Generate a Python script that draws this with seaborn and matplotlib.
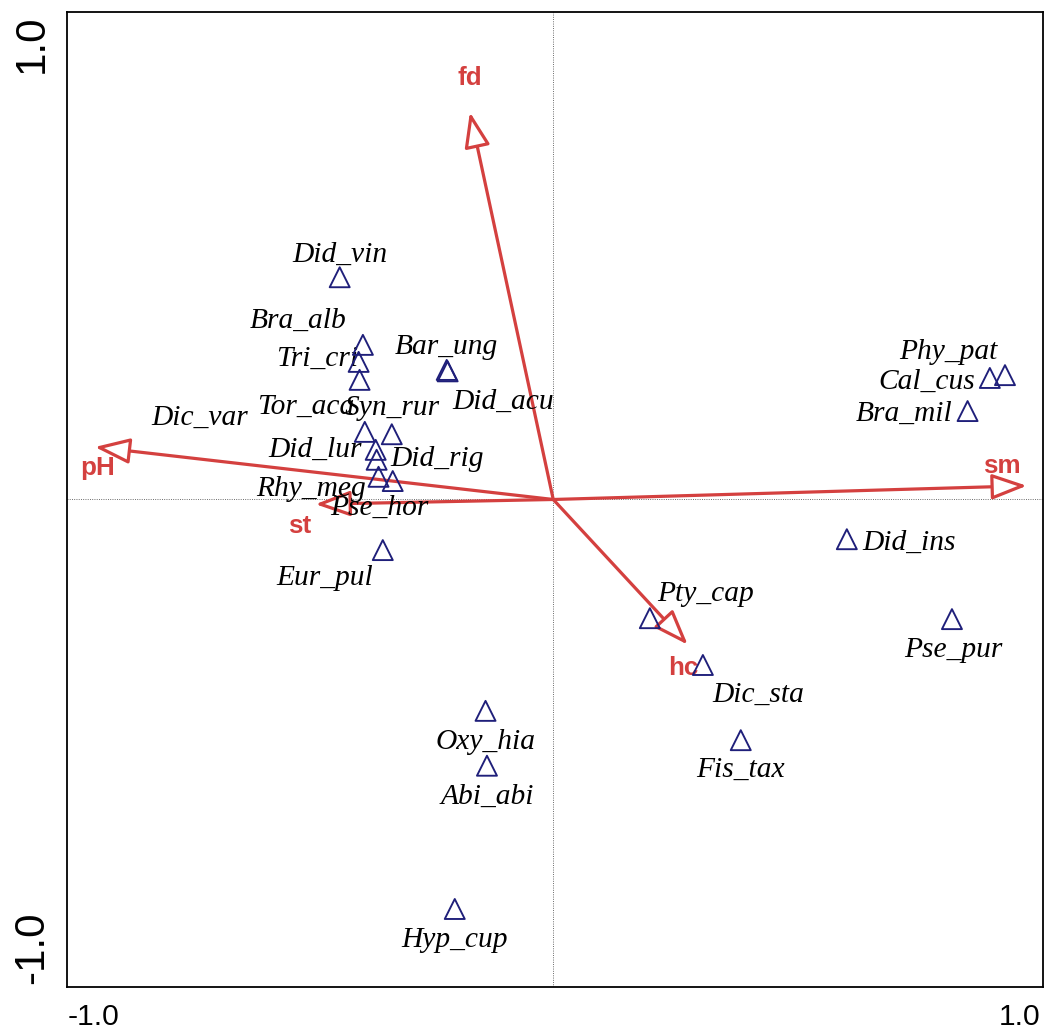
"""
CCA-style biplot: moss species scores and environmental arrows
"""

import matplotlib
matplotlib.use("Agg")
import matplotlib.pyplot as plt
import matplotlib.transforms as mtransforms
import seaborn as sns
import pandas as pd

# species scores (axis 1, axis 2)
species = ["Did_vin", "Bra_alb", "Tri_cri", "Tor_aca", "Bar_ung", "Did_acu",
           "Dic_var", "Syn_rur", "Did_lur", "Did_rig", "Rhy_meg", "Pse_hor",
           "Eur_pul", "Phy_pat", "Cal_cus", "Bra_mil", "Did_ins", "Pse_pur",
           "Pty_cap", "Dic_sta", "Fis_tax", "Oxy_hia", "Abi_abi", "Hyp_cup"]
sp_x = [-0.451, -0.402, -0.411, -0.409, -0.225, -0.223,
        -0.398, -0.341, -0.375, -0.339, -0.369, -0.373,
        -0.360, 0.954, 0.922, 0.875, 0.620, 0.842,
        0.204, 0.316, 0.396, -0.143, -0.140, -0.208]
sp_y = [0.470, 0.327, 0.291, 0.253, 0.274, 0.271,
        0.143, 0.138, 0.105, 0.039, 0.048, 0.084,
        -0.107, 0.263, 0.257, 0.187, -0.084, -0.253,
        -0.251, -0.350, -0.509, -0.447, -0.563, -0.866]

# environmental variables (arrow tips)
env_vars = ["fd", "pH", "sm", "st", "hc"]
env_x = [-0.176, -0.968, 1.000, -0.502, 0.284]
env_y = [0.819, 0.111, 0.029, -0.010, -0.307]

# label offsets in points (dx, dy), layout only
sp_offsets = {
    "Did_vin": (0, 22), "Bra_alb": (-65, 24), "Tri_cri": (-42, 3),
    "Tor_aca": (-54, -27), "Bar_ung": (0, 23), "Did_acu": (55, -30),
    "Dic_var": (-165, 14), "Syn_rur": (0, 26), "Did_lur": (-61, 0),
    "Did_rig": (44, 22), "Rhy_meg": (-67, -12), "Pse_hor": (3, -48),
    "Eur_pul": (-58, -28), "Phy_pat": (-57, 23), "Cal_cus": (-63, -4),
    "Bra_mil": (-63, -3), "Did_ins": (62, -4), "Pse_pur": (1, -31),
    "Pty_cap": (56, 24), "Dic_sta": (55, -30), "Fis_tax": (0, -30),
    "Oxy_hia": (0, -31), "Abi_abi": (0, -31), "Hyp_cup": (0, -31),
}
env_offsets = {"fd": (0, 34), "pH": (3, -21), "sm": (-25, 20),
               "st": (-16, -22), "hc": (-4, -23)}

RED = "#d4403f"
NAVY = "#1f1f7a"

sns.set_style("white")
plt.rcParams["font.family"] = ["Liberation Sans", "DejaVu Sans"]

df = pd.DataFrame({"species": species, "x": sp_x, "y": sp_y})

fig = plt.figure(figsize=(1046 / 72, 1032 / 72), dpi=72)
ax = fig.add_axes([0.064, 0.0436, 0.933, 0.9448])

# zero lines
ax.axhline(0, color="#555555", lw=0.9, ls=(0, (1, 1.5)), zorder=1)
ax.axvline(0, color="#555555", lw=0.9, ls=(0, (1, 1.5)), zorder=1)

# environmental arrows
for name, ex, ey in zip(env_vars, env_x, env_y):
    ax.annotate("", xy=(ex, ey), xytext=(0, 0),
                arrowprops=dict(arrowstyle="-|>,head_length=1.5,head_width=0.55",
                                mutation_scale=20, fc="white", ec=RED, lw=3.2,
                                shrinkA=0, shrinkB=0),
                zorder=3)
    dx, dy = env_offsets[name]
    ax.annotate(name, (ex, ey), xytext=(dx, dy), textcoords="offset points",
                ha="center", va="center", color=RED, fontsize=26,
                fontweight="bold", zorder=4)

# species triangles
sns.scatterplot(data=df, x="x", y="y", marker="^", s=400, facecolors="none",
                edgecolor=NAVY, linewidth=1.9, ax=ax, zorder=5, legend=False)

for name, sx, sy in zip(species, sp_x, sp_y):
    dx, dy = sp_offsets[name]
    ax.annotate(name, (sx, sy), xytext=(dx, dy), textcoords="offset points",
                ha="center", va="center", fontsize=29.5, fontstyle="italic",
                family=["Liberation Serif", "DejaVu Serif"], color="black",
                zorder=4)

ax.set_xlim(-1.027, 1.034)
ax.set_ylim(-1.031, 1.031)
ax.set_xticks([-1.0, -0.5, 0.0, 0.5, 1.0])
ax.set_xticklabels(["-1.0", "", "", "", "1.0"])
ax.set_yticks([-1.0, -0.5, 0.0, 0.5, 1.0])
ax.set_yticklabels(["-1.0", "", "", "", "1.0"], rotation=90, va="center")
ax.tick_params(axis="x", direction="out", length=7, width=1.5,
               labelsize=30, pad=9, colors="black")
ax.tick_params(axis="y", direction="out", length=7, width=1.5,
               labelsize=42, pad=8, colors="black")
ax.set_xlabel("")
ax.set_ylabel("")
for spine in ax.spines.values():
    spine.set_color("black")
    spine.set_linewidth(1.8)


def nudge(label, dx, dy):
    label.set_transform(label.get_transform()
                        + mtransforms.ScaledTranslation(dx / 72, dy / 72,
                                                        fig.dpi_scale_trans))


# shift the end labels inward, as in the original
xl = ax.get_xticklabels()
nudge(xl[0], 14, 0)
nudge(xl[-1], -7, 0)
yl = ax.get_yticklabels()
nudge(yl[0], 0, 25)
nudge(yl[-1], 0, -17)

fig.savefig("out.png", dpi=72)
